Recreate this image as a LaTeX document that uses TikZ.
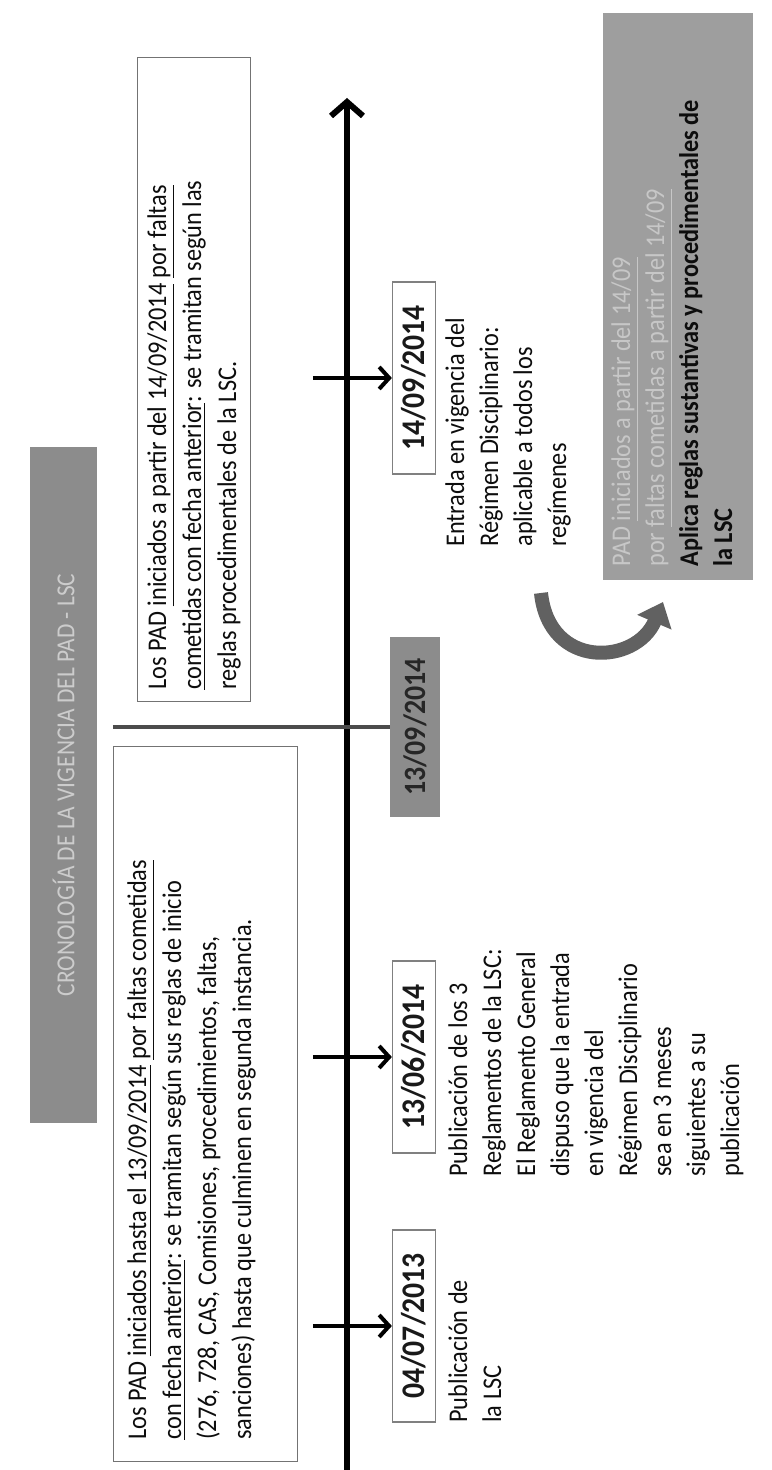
\documentclass[tikz,border=0pt]{standalone}
\usepackage{fontspec}
\setmainfont{Carlito}[FakeStretch=0.9]
\usepackage{xcolor}
\usepackage{tikz}
\usetikzlibrary{arrows.meta}

\newcommand{\undl}[1]{\underline{#1}}

\begin{document}
\begin{tikzpicture}[
    x=0.5pt, y=0.5pt, rotate=90, transform shape,
    axis/.style={line width=3pt, -{Straight Barb[length=7pt, width=16pt]}},
    tick/.style={line width=2pt, -{Straight Barb[length=5pt, width=11pt]}},
    datebox/.style={rectangle, draw=black!50, line width=0.6pt, fill=white, minimum width=96pt, minimum height=21.5pt, inner sep=0pt, font=\fontsize{16.5}{18}\selectfont\bfseries, text=black!90},
    infobox/.style={rectangle, draw=black!55, line width=0.6pt, anchor=north west, inner sep=0pt},
    greybox/.style={rectangle, fill=black!45, inner sep=0pt},
    txt/.style={anchor=north west, align=left, inner sep=0pt, font=\fontsize{13.5}{17}\selectfont, text=black!95}
]

\fill[white] (0,0) rectangle (1470,771);
\useasboundingbox (0,0) rectangle (1470,771);

%==============================================================================
% Title
%==============================================================================
\node[greybox, minimum width=338pt, minimum height=33.5pt, font=\fontsize{13}{15}\selectfont, text=black!20] (title) at (685,707.5) {CRONOLOGÍA DE LA VIGENCIA DEL PAD - LSC};

%==============================================================================
% Time axis
%==============================================================================
\coordinate (t0) at (0,424);
\coordinate (tend) at (1372,424);
\draw[axis] (t0) -- (tend);

%==============================================================================
% Before and after 13/09/2014
%==============================================================================
\node[infobox, minimum width=357.5pt, minimum height=92pt] (lbox) at (8,658) {};
\node[txt, font=\fontsize{13.5}{17.5}\selectfont] (ltext) at ([shift={(22,-14)}]lbox.north west) {Los PAD \undl{iniciados hasta el 13/09/2014} \undl{por faltas cometidas}\\
    \undl{con fecha anterior}: se tramitan según sus reglas de inicio\\
    (276, 728, CAS, Comisiones, procedimientos, faltas,\\
    sanciones) hasta que culminen en segunda instancia.};

\node[infobox, minimum width=322pt, minimum height=56.5pt] (rbox) at (768,634) {};
\node[txt, font=\fontsize{13.5}{17.5}\selectfont] (rtext) at ([shift={(12,-10)}]rbox.north west) {Los PAD \undl{iniciados a partir del 14/09/2014} \undl{por faltas}\\
    \undl{cometidas con fecha anterior}: se tramitan según las\\
    reglas procedimentales de la LSC.};

% Dividing date
\node[greybox, minimum width=90pt, minimum height=25pt, font=\fontsize{15.5}{17}\selectfont\bfseries, text=black!85] (g13) at (743,356) {13/09/2014};
\coordinate (dtop) at (743,658);
\draw[line width=2.2pt, black!70] (dtop) -- (g13.north);

%==============================================================================
% Events
%==============================================================================
\node[datebox] (d1) at (144,357) {04/07/2013};
\node[datebox] (d2) at (413,357) {13/06/2014};
\node[datebox] (d3) at (1092,357) {14/09/2014};

\coordinate (e1) at (144,458);
\coordinate (e2) at (413,458);
\coordinate (e3) at (1092,458);
\draw[tick] (e1) -- (d1.north);
\draw[tick] (e2) -- (d2.north);
\draw[tick] (e3) -- (d3.north);

\node[txt] (p1) at (47,323) {Publicación de\\la LSC};
\node[txt] (p2) at (293,323) {Publicación de los 3\\Reglamentos de la LSC:\\El Reglamento General\\dispuso que la entrada\\en vigencia del\\Régimen Disciplinario\\sea en 3 meses\\siguientes a su\\publicación};
\node[txt] (p3) at (923,326) {Entrada en vigencia del\\Régimen Disciplinario:\\aplicable a todos los\\regímenes};

%==============================================================================
% Result
%==============================================================================
\coordinate (cstart) at (877,230);
\coordinate (cend) at (868,108);
\draw[line width=7pt, black!62, -{Triangle[length=11pt, width=18pt]}] (cstart) .. controls (800,222) and (805,135) .. (cend);

\node[greybox, fill=black!38, anchor=north west, minimum width=283.5pt, minimum height=75pt] (gbox) at (890,168) {};
\node[txt] (gtext) at ([shift={(13,-8)}]gbox.north west) {{\color{black!22}PAD \undl{iniciados a partir del 14/09}}\\
    {\color{black!22}por \undl{faltas cometidas a partir del 14/09}}\\
    \textbf{Aplica reglas sustantivas y procedimentales de}\\
    \textbf{la LSC}};

\end{tikzpicture}
\end{document}
